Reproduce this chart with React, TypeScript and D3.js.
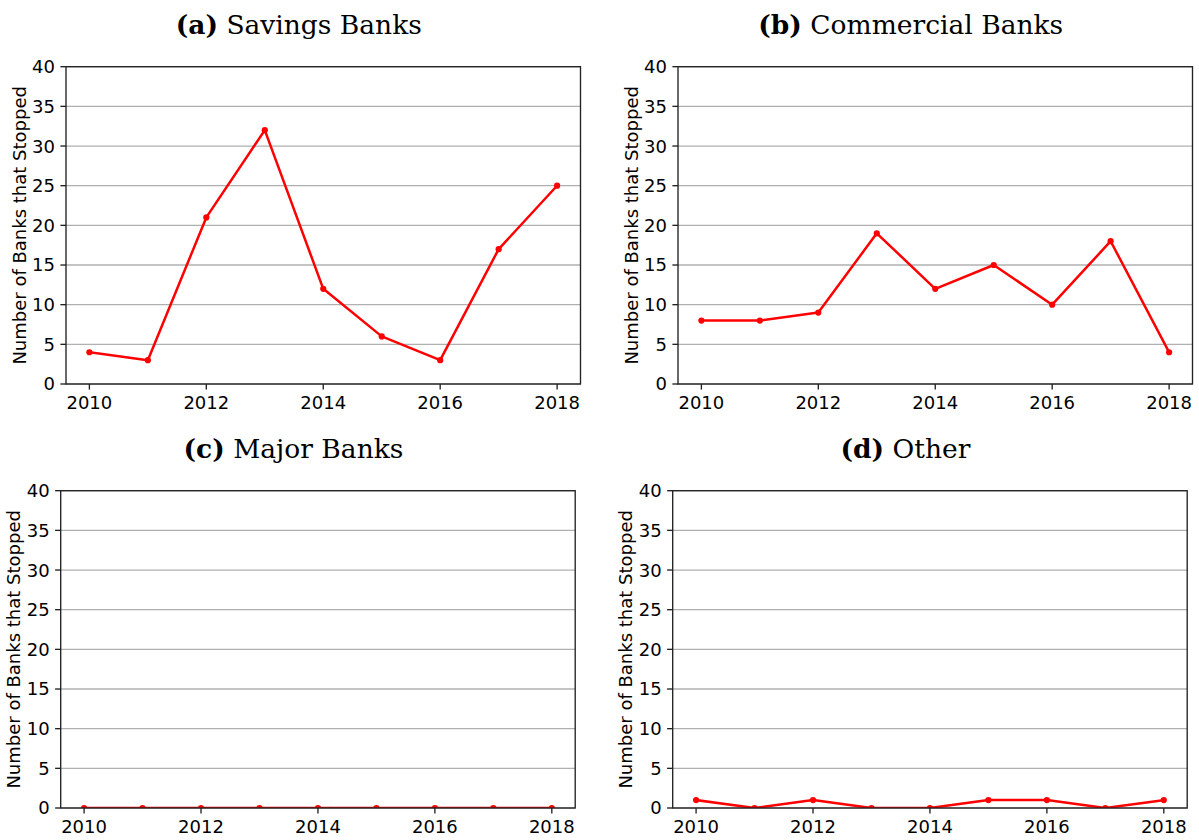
import React from "react";
import * as d3 from "d3";

const years = [2010, 2011, 2012, 2013, 2014, 2015, 2016, 2017, 2018];
const savingsBanks = [4, 3, 21, 32, 12, 6, 3, 17, 25];
const commercialBanks = [8, 8, 9, 19, 12, 15, 10, 18, 4];
const majorBanks = [0, 0, 0, 0, 0, 0, 0, 0, 0];
const otherBanks = [1, 0, 1, 0, 0, 1, 1, 0, 1];
const xTicks = [2010, 2012, 2014, 2016, 2018];
const yTicks = [0, 5, 10, 15, 20, 25, 30, 35, 40];
const panelLetters = ["a", "b", "c", "d"];
const panelNames = ["Savings Banks", "Commercial Banks", "Major Banks", "Other"];
const panelSeries = [savingsBanks, commercialBanks, majorBanks, otherBanks];
const yLabel = "Number of Banks that Stopped";

const panelBoxes = [
  { x: 66, y: 66.7, w: 514.5, h: 317.3 },
  { x: 678, y: 66.7, w: 514.5, h: 317.3 },
  { x: 60.7, y: 490.7, w: 514.5, h: 317.3 },
  { x: 672.7, y: 490.7, w: 514.5, h: 317.3 },
];

const sans = "'DejaVu Sans', sans-serif";
const serif = "'DejaVu Serif', serif";

function Panel({ idx }: { idx: number }) {
  const b = panelBoxes[idx];
  const data = panelSeries[idx];
  const x = d3.scaleLinear().domain([2009.6, 2018.4]).range([b.x, b.x + b.w]);
  const y = d3.scaleLinear().domain([0, 40]).range([b.y + b.h, b.y]);
  const pts: [number, number][] = years.map((yr, i) => [yr, data[i]]);
  const line = d3
    .line<[number, number]>()
    .x((d) => x(d[0]))
    .y((d) => y(d[1]));
  const clipId = `clip-${idx}`;
  const tick = 5.6;
  const pad = 5.4;
  return (
    <g>
      <defs>
        <clipPath id={clipId}>
          <rect x={b.x} y={b.y} width={b.w} height={b.h} />
        </clipPath>
      </defs>
      {yTicks.map((t) => (
        <line
          key={"g" + t}
          x1={b.x}
          x2={b.x + b.w}
          y1={y(t)}
          y2={y(t)}
          stroke="#b0b0b0"
          strokeWidth={1.3}
        />
      ))}
      <g clipPath={`url(#${clipId})`}>
        <path d={line(pts) || ""} fill="none" stroke="#ff0000" strokeWidth={2.5} strokeLinejoin="round" strokeLinecap="square" />
        {pts.map((p, i) => (
          <circle key={i} cx={x(p[0])} cy={y(p[1])} r={3.1} fill="#ff0000" />
        ))}
      </g>
      <rect x={b.x} y={b.y} width={b.w} height={b.h} fill="none" stroke="#222" strokeWidth={1.35} />
      {yTicks.map((t) => (
        <g key={"y" + t}>
          <line x1={b.x - tick} x2={b.x} y1={y(t)} y2={y(t)} stroke="#222" strokeWidth={1.35} />
          <text
            x={b.x - tick - pad}
            y={y(t)}
            dy="0.36em"
            textAnchor="end"
            fontFamily={sans}
            fontSize={18}
            fill="#000"
          >
            {t}
          </text>
        </g>
      ))}
      {xTicks.map((t) => (
        <g key={"x" + t}>
          <line x1={x(t)} x2={x(t)} y1={b.y + b.h} y2={b.y + b.h + tick} stroke="#222" strokeWidth={1.35} />
          <text
            x={x(t)}
            y={b.y + b.h + tick + pad + 13.6}
            textAnchor="middle"
            fontFamily={sans}
            fontSize={18}
            fill="#000"
          >
            {t}
          </text>
        </g>
      ))}
      <text
        transform={`translate(${b.x - 40.5},${b.y + b.h / 2}) rotate(-90)`}
        textAnchor="middle"
        fontFamily={sans}
        fontSize={18}
        fill="#000"
      >
        {yLabel}
      </text>
      <text
        x={b.x + b.w / 2 - 24.5}
        y={b.y - 32.5}
        textAnchor="middle"
        fontFamily={serif}
        fontSize={26.5}
        fill="#000"
      >
        <tspan fontWeight="bold">({panelLetters[idx]})</tspan>
        <tspan> {panelNames[idx]}</tspan>
      </text>
    </g>
  );
}

export default function App() {
  return (
    <svg
      width={1199}
      height={840}
      style={{ position: "absolute", left: 0, top: 0, background: "#fff" }}
    >
      <rect x={0} y={0} width={1199} height={840} fill="#fff" />
      {panelBoxes.map((_, i) => (
        <Panel key={i} idx={i} />
      ))}
    </svg>
  );
}
